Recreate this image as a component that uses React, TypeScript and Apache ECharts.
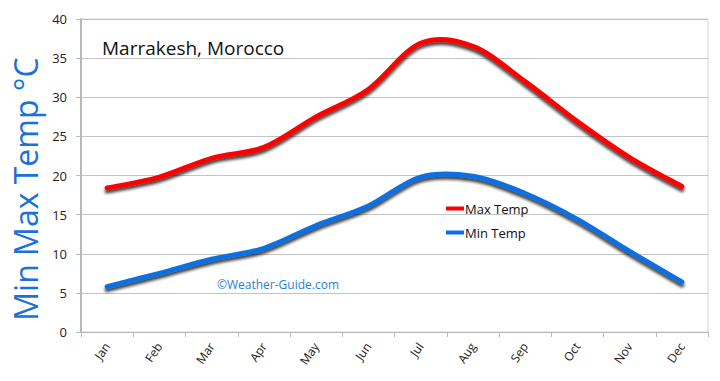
import React, { useEffect, useRef } from "react";
import * as echarts from "echarts";

const months = ["Jan", "Feb", "Mar", "Apr", "May", "Jun", "Jul", "Aug", "Sep", "Oct", "Nov", "Dec"];
const maxTemp = [18.4, 19.8, 22.2, 23.6, 27.5, 31.0, 36.9, 36.5, 32.0, 26.9, 22.3, 18.6];
const minTemp = [5.8, 7.5, 9.3, 10.7, 13.6, 16.1, 19.8, 19.9, 17.7, 14.4, 10.3, 6.4];
const yTicks = { min: 0, max: 40, interval: 5 };

const FONT = "'Open Sans', 'DejaVu Sans', sans-serif";

function smoothPath(pts: number[][]): string {
  if (!pts.length) return "";
  let d = `M${pts[0][0]},${pts[0][1]}`;
  for (let i = 0; i < pts.length - 1; i++) {
    const p0 = pts[i - 1] || pts[i];
    const p1 = pts[i];
    const p2 = pts[i + 1];
    const p3 = pts[i + 2] || p2;
    const c1x = p1[0] + (p2[0] - p0[0]) / 6;
    const c1y = p1[1] + (p2[1] - p0[1]) / 6;
    const c2x = p2[0] - (p3[0] - p1[0]) / 6;
    const c2y = p2[1] - (p3[1] - p1[1]) / 6;
    d += ` C${c1x},${c1y} ${c2x},${c2y} ${p2[0]},${p2[1]}`;
  }
  return d;
}

function lineSeries(name: string, values: number[], color: string) {
  return {
    name,
    type: "custom",
    coordinateSystem: "cartesian2d",
    data: [[0, values[0]]],
    itemStyle: { color },
    encode: { x: 0, y: 1 },
    renderItem: (_params: any, api: any) => {
      const pts = values.map((v, i) => api.coord([i, v]));
      return {
        type: "path",
        shape: { pathData: smoothPath(pts) },
        style: {
          fill: "none",
          stroke: color,
          lineWidth: 5,
          lineCap: "round",
          lineJoin: "round",
          shadowColor: "rgba(0,0,0,0.75)",
          shadowBlur: 3,
          shadowOffsetY: 3,
          shadowOffsetX: 0,
        },
      };
    },
  };
}

export default function App() {
  const ref = useRef<HTMLDivElement>(null);
  useEffect(() => {
    if (!ref.current) return;
    const chart = echarts.init(ref.current, null, { renderer: "svg" });
    chart.setOption({
      animation: false,
      backgroundColor: "#ffffff",
      textStyle: { fontFamily: FONT },
      grid: { left: 81, right: 12, top: 19, bottom: 49, show: true, borderColor: "#d4d4d4", borderWidth: 1 },
      title: {
        text: "Marrakesh, Morocco",
        left: 97,
        top: 33,
        textStyle: { fontFamily: FONT, fontSize: 19, fontWeight: "normal", color: "#111" },
      },
      legend: {
        orient: "vertical",
        left: 441,
        top: 197,
        itemWidth: 18,
        itemHeight: 4,
        itemGap: 11,
        icon: "rect",
        textStyle: { fontFamily: FONT, fontSize: 13, color: "#111", padding: [0, 0, 0, -4] },
        data: ["Max Temp", "Min Temp"],
      },
      xAxis: {
        type: "category",
        data: months,
        boundaryGap: true,
        axisLine: { lineStyle: { color: "#b8b8b8", width: 1 } },
        axisTick: { show: true, length: 5, lineStyle: { color: "#b8b8b8" } },
        axisLabel: { rotate: 55, color: "#222", fontSize: 12, margin: 12 },
      },
      yAxis: {
        type: "value",
        min: yTicks.min,
        max: yTicks.max,
        interval: yTicks.interval,
        axisLine: { show: true, lineStyle: { color: "#b8b8b8", width: 2 } },
        axisTick: { show: true, length: 5, lineStyle: { color: "#b8b8b8" } },
        axisLabel: { color: "#222", fontSize: 13, margin: 14 },
        splitLine: { lineStyle: { color: "#c4c4c4", width: 1 } },
      },
      graphic: [
        {
          type: "text",
          x: 25,
          y: 189,
          rotation: Math.PI / 2,
          style: {
            text: "Min Max Temp °C",
            fill: "#1a72d8",
            font: `32px ${FONT}`,
            align: "center",
            verticalAlign: "middle",
          },
        },
        {
          type: "text",
          left: 217,
          top: 278,
          style: { text: "©Weather-Guide.com", fill: "#2a7ee0", font: `12px ${FONT}` },
        },
      ],
      series: [
        lineSeries("Max Temp", maxTemp, "#ff0000"),
        lineSeries("Min Temp", minTemp, "#0a6fe0"),
      ],
    });
    return () => chart.dispose();
  }, []);
  return <div ref={ref} style={{ width: 720, height: 381, position: "absolute", left: 0, top: 0 }} />;
}
